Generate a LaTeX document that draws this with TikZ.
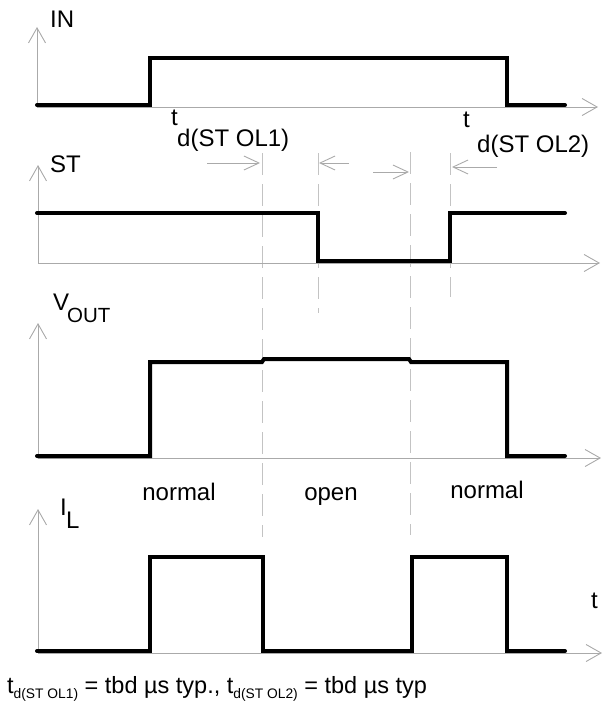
\documentclass[tikz,border=0pt]{standalone}
\usepackage{fontspec}
\setmainfont{Liberation Sans}
\usetikzlibrary{arrows.meta}
\definecolor{axisgray}{RGB}{170,170,170}
\definecolor{dashgray}{RGB}{195,195,195}
\begin{document}
\begin{tikzpicture}[x=1pt,y=-1pt,
  sig/.style={line width=4pt, line join=miter, line cap=round},
  axis/.style={draw=axisgray, line width=0.9pt, -{Straight Barb[length=15pt,width=17pt,line width=0.9pt]}},
  annot/.style={draw=axisgray, line width=0.9pt, -{Straight Barb[length=15pt,width=14pt,line width=0.9pt]}},
  guide/.style={draw=dashgray, line width=1pt, dash pattern=on 22pt off 9pt},
  lbl/.style={inner sep=0pt, font=\fontsize{24}{28}\selectfont, anchor=base west},
  lblc/.style={inner sep=0pt, font=\fontsize{24}{28}\selectfont, anchor=base},
  sublbl/.style={inner sep=0pt, font=\fontsize{20.5}{24}\selectfont, anchor=base west},
]
\useasboundingbox (0,0) rectangle (603,701);

% guide lines
\draw[guide] (262,153) -- (262,537);
\draw[guide] (410,152) -- (410,535);
\draw[guide] (318,153) -- (318,313);
\draw[guide] (450,153) -- (450,297);

% axes
\draw[axis] (37,107) -- (37,27);
\draw[axis] (37,107) -- (598,107);
\draw[axis] (38,263) -- (38,165);
\draw[axis] (38,263) -- (600,263);
\draw[axis] (38,458) -- (38,323);
\draw[axis] (38,458) -- (601,458);
\draw[axis] (38,653) -- (38,509);
\draw[axis] (38,653) -- (602,653);

% annotation arrows
\draw[annot] (207,163) -- (260,163);
\draw[annot] (349,163) -- (319,163);
\draw[annot] (373,172) -- (409,172);
\draw[annot] (497,167) -- (452,167);

% signals
\draw[sig] (37,105) -- (150,105) -- (150,58) -- (507,58) -- (507,105) -- (565,105);
\draw[sig] (37,213) -- (318,213) -- (318,261) -- (450,261) -- (450,213) -- (565,213);
\draw[sig] (37,456) -- (150,456) -- (150,362) -- (262,362) -- (264,359) -- (409,359) -- (411,362) -- (507,362) -- (507,456) -- (565,456);
\draw[sig] (37,651) -- (150,651) -- (150,557) -- (263,557) -- (263,651) -- (412,651) -- (412,557) -- (507,557) -- (507,651) -- (565,651);

% labels
\node[lbl] (in) at (50,28) {IN};
\node[lbl] (st) at (50,172) {ST};
\node[lbl] (v) at (53,310) {V};
\node[sublbl] (vout) at (67,322) {OUT};
\node[lbl] (i) at (60,515) {I};
\node[lbl] (il) at (66,528) {L};
\node[lbl] (t1) at (171,125) {t};
\node[lbl] (t1s) at (177,146) {d(ST OL1)};
\node[lbl] (t2) at (463,127) {t};
\node[lbl] (t2s) at (477,152) {d(ST OL2)};
\node[lblc] (n1) at (179,500) {normal};
\node[lblc] (op) at (331,500) {open};
\node[lblc] (n2) at (487,498) {normal};
\node[lbl] (tax) at (591,608) {t};
\node[inner sep=0pt, anchor=base west, font=\fontsize{23.5}{28}\selectfont] (note) at (7,693) {t\raisebox{-5pt}{\fontsize{13.8}{15}\selectfont d(ST OL1)} = tbd µs typ., t\raisebox{-5pt}{\fontsize{13.8}{15}\selectfont d(ST OL2)} = tbd µs typ};
\end{tikzpicture}
\end{document}
